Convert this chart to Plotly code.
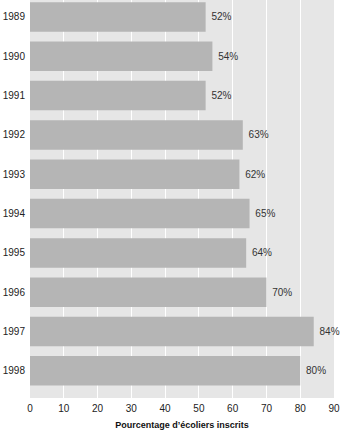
import plotly.graph_objects as go

years = ["1989", "1990", "1991", "1992", "1993", "1994", "1995", "1996", "1997", "1998"]
values = [52, 54, 52, 63, 62, 65, 64, 70, 84, 80]
labels = [f"\u00a0{v}%" for v in values]
x_ticks = [0, 10, 20, 30, 40, 50, 60, 70, 80, 90]

fig = go.Figure(go.Bar(
    x=values, y=years, orientation="h",
    marker=dict(color="#b5b5b5", line=dict(width=0)),
    width=0.75,
    text=labels, textposition="outside", cliponaxis=False,
    textfont=dict(family="Liberation Sans, Arial", size=10, color="#333333"),
))

fig.update_layout(
    width=340, height=430,
    margin=dict(l=30, r=6, t=0, b=32),
    plot_bgcolor="#e6e6e6", paper_bgcolor="white",
    showlegend=False,
    font=dict(family="Liberation Sans, Arial", size=10, color="#222222"),
    xaxis=dict(range=[0, 90], tickvals=x_ticks, showgrid=True, gridcolor="white",
               gridwidth=1, zeroline=False, ticks="", showline=False,
               ticklabelstandoff=3,
               title=dict(text="<b>Pourcentage d’écoliers inscrits</b>",
                          font=dict(size=9, color="#111111"), standoff=11),
               tickfont=dict(size=10, color="#222222")),
    yaxis=dict(type="category", range=[9.69, -0.43], showgrid=False, ticks="",
               showline=False, zeroline=False, ticklabelstandoff=4,
               tickfont=dict(size=10, color="#222222")),
)

fig.write_html("out.html")
